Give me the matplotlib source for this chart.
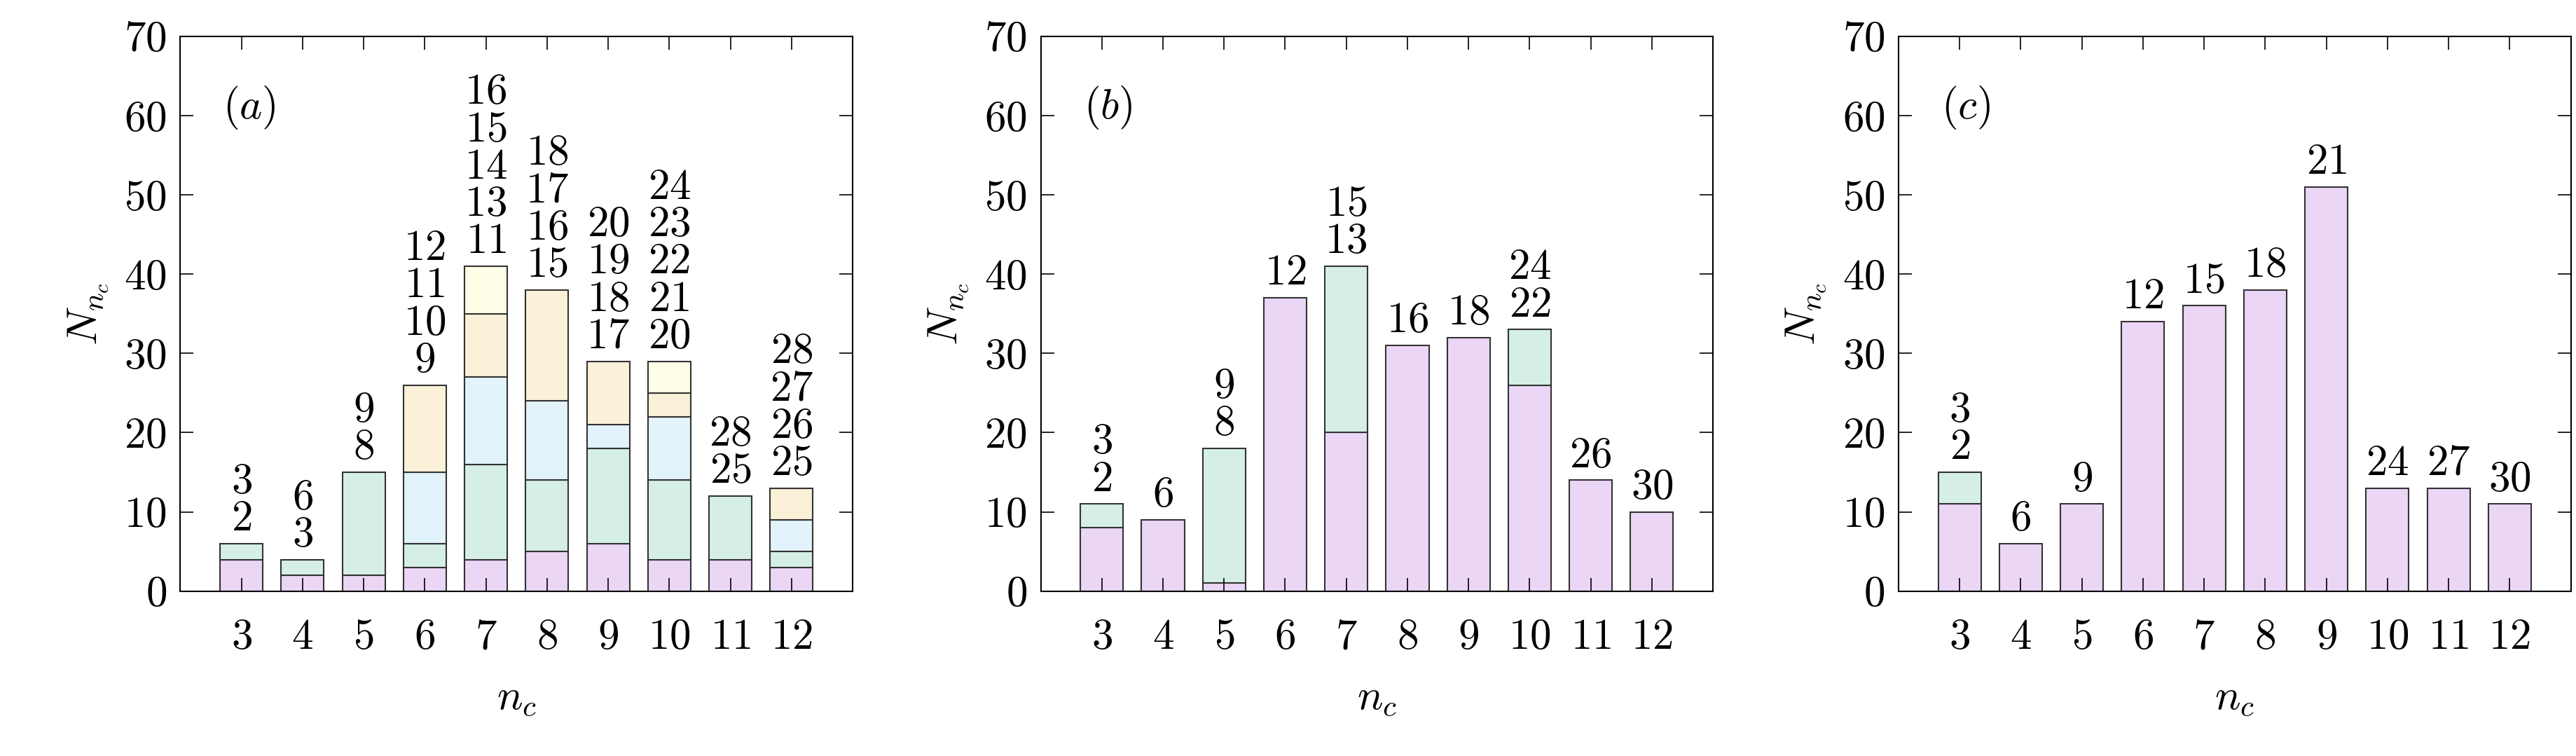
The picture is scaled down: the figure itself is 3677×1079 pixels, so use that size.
import matplotlib
matplotlib.use("Agg")
import matplotlib.pyplot as plt
import numpy as np

plt.rcParams['mathtext.fontset'] = 'cm'
plt.rcParams['font.family'] = 'cmr10'
plt.rcParams['axes.formatter.use_mathtext'] = True

nc = [3, 4, 5, 6, 7, 8, 9, 10, 11, 12]
colors = ['#ebd6f6', '#d6efe6', '#e2f3fb', '#fbf1d8', '#fefde7']

# panel (a) segment heights (cumulative tops per layer)
a_cum = [
    [4, 6], [2, 4], [2, 15], [3, 6, 15, 26], [4, 16, 27, 35, 41],
    [5, 14, 24, 38], [6, 18, 21, 29], [4, 14, 22, 25, 29], [4, 12], [3, 5, 9, 13],
]
a_lab = [[2, 3], [3, 6], [8, 9], [9, 10, 11, 12], [11, 13, 14, 15, 16],
         [15, 16, 17, 18], [17, 18, 19, 20], [20, 21, 22, 23, 24], [25, 28], [25, 26, 27, 28]]
b_cum = [[8, 11], [9], [1, 18], [37], [20, 41], [31], [32], [26, 33], [14], [10]]
b_lab = [[2, 3], [6], [8, 9], [12], [13, 15], [16], [18], [22, 24], [26], [30]]
c_cum = [[11, 15], [6], [11], [34], [36], [38], [51], [13], [13], [11]]
c_lab = [[2, 3], [6], [9], [12], [15], [18], [21], [24], [27], [30]]

panels = [(a_cum, a_lab, '(a)'), (b_cum, b_lab, '(b)'), (c_cum, c_lab, '(c)')]
lefts = [0.070, 0.404, 0.737]

fig = plt.figure(figsize=(36.77, 10.79), dpi=100)
FS = 44
for (cum, lab, name), l in zip(panels, lefts):
    ax = fig.add_axes([l, 0.218, 0.261, 0.734])
    for x, tops, labs in zip(nc, cum, lab):
        prev = 0
        for i, t in enumerate(tops):
            ax.bar(x, t - prev, bottom=prev, width=0.7, color=colors[i],
                   edgecolor='#333333', linewidth=1.5)
            prev = t
        txt = '\n'.join(f'${v}$' for v in reversed(labs))
        ax.text(x, prev + 0.6, txt, ha='center', va='bottom', fontsize=FS,
                linespacing=0.95)
    ax.set_xlim(2, 13)
    ax.set_ylim(0, 70)
    ax.set_xticks(nc)
    ax.set_xticklabels([f'${v}$' for v in nc])
    ax.set_yticks(range(0, 71, 10))
    ax.set_yticklabels([f'${v}$' for v in range(0, 71, 10)])
    ax.tick_params(direction='in', top=True, right=True, length=14, width=1.2,
                   labelsize=FS, pad=28)
    ax.tick_params(axis='y', pad=14)
    for s in ax.spines.values():
        s.set_linewidth(1.5)
    ax.set_xlabel('$n_c$', fontsize=FS, labelpad=22)
    ax.set_ylabel('$N_{n_c}$', fontsize=FS, labelpad=14)
    ax.text(2.7, 61, f'${name}$', fontsize=FS, va='center')

fig.savefig('out.png', dpi=100)
